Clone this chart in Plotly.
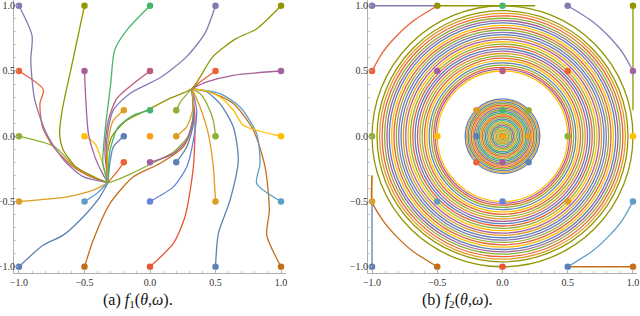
import plotly.graph_objects as go

# ---------------- palette (Mathematica default) ----------------
BLUE = "#5E81B5"; ORANGE = "#E19C24"; GREEN = "#8FB032"; RED = "#EB6235"
PURPLE = "#8778B3"; BROWN = "#C56E1A"; LBLUE = "#5D9EC7"; YELLOW = "#FFBF00"
MAGENTA = "#A5619D"; OLIVE = "#929600"; RED2 = "#E95536"; BLUE2 = "#6685D9"
ORANGE2 = "#F89F13"; MAGENTA2 = "#BC5B80"; TEAL = "#47B66D"

# ---------------- initial points (shared by both panels) ----------------
start_x = [-1, -1, -1, -1, -1, -0.5, -0.5, -0.5, -0.5, -0.5, 0, 0, 0, 0, 0,
           0.5, 0.5, 0.5, 0.5, 0.5, 1, 1, 1, 1, 1,
           -0.2, -0.2, -0.2, 0, 0, 0.2, 0.2, 0.2]
start_y = [-1, -0.5, 0, 0.5, 1, -1, -0.5, 0, 0.5, 1, -1, -0.5, 0, 0.5, 1,
           -1, -0.5, 0, 0.5, 1, -1, -0.5, 0, 0.5, 1,
           -0.2, 0, 0.2, -0.2, 0.2, -0.2, 0, 0.2]
start_color = [BLUE, ORANGE, GREEN, RED, PURPLE, BROWN, LBLUE, YELLOW, MAGENTA, OLIVE,
               RED2, BLUE2, ORANGE2, MAGENTA2, TEAL,
               BLUE, ORANGE, GREEN, RED, PURPLE, BROWN, LBLUE, YELLOW, MAGENTA, OLIVE,
               RED, BLUE, ORANGE, MAGENTA, TEAL, BLUE, ORANGE, GREEN]

# ---------------- panel (a): trajectories ----------------
a_path_x = [
    [-1, -0.814, -0.662, -0.509, -0.382, -0.32],
    [-1, -0.636, -0.433, -0.32],
    [-1, -0.725, -0.585, -0.433, -0.32, -0.15, 0.0, 0.18, 0.29, 0.33, 0.32],
    [-1, -0.814, -0.84, -0.82, -0.738, -0.585, -0.43, -0.32],
    [-1, -0.9, -0.91, -0.88, -0.79, -0.66, -0.51, -0.32],
    [-0.5, -0.433, -0.305, -0.127, 0.076, 0.254, 0.331, 0.32],
    [-0.5, -0.407, -0.32],
    [-0.5, -0.42, -0.369, -0.32],
    [-0.5, -0.49, -0.47, -0.42, -0.36, -0.32],
    [-0.5, -0.6, -0.67, -0.69, -0.66, -0.56, -0.41, -0.32],
    [0, 0.178, 0.267, 0.331, 0.343, 0.32],
    [0, 0.178, 0.28, 0.331, 0.356, 0.32],
    [0],
    [0, -0.127, -0.254, -0.318, -0.344, -0.32],
    [0, -0.18, -0.27, -0.3, -0.34, -0.36, -0.32],
    [0.5, 0.522, 0.611, 0.674, 0.636, 0.534, 0.433, 0.32],
    [0.5, 0.483, 0.445, 0.382, 0.32],
    [0.5, 0.483, 0.433, 0.382, 0.32],
    [0.5, 0.382, 0.32],
    [0.5, 0.42, 0.28, 0.08, -0.15, -0.28, -0.33, -0.32],
    [1, 0.891, 0.911, 0.878, 0.789, 0.636, 0.458, 0.32],
    [1, 0.814, 0.84, 0.814, 0.687, 0.534, 0.32],
    [1, 0.713, 0.636, 0.534, 0.407, 0.32],
    [1, 0.636, 0.433, 0.32],
    [1, 0.81, 0.66, 0.48, 0.32, 0.15, 0.0, -0.18, -0.29, -0.33, -0.32],
    [-0.2, -0.25, -0.32],
    [-0.2, -0.28, -0.31, -0.32],
    [-0.2, -0.28, -0.318, -0.326, -0.32],
    [0, 0.178, 0.28, 0.331, 0.32],
    [0, -0.127, -0.242, -0.305, -0.32],
    [0.2, 0.28, 0.331, 0.32],
    [0.2, 0.28, 0.33, 0.32],
    [0.2, 0.242, 0.32],
]
a_path_y = [
    [-1, -0.834, -0.758, -0.617, -0.464, -0.355],
    [-0.5, -0.464, -0.413, -0.355],
    [0, -0.082, -0.222, -0.311, -0.355, -0.29, -0.215, -0.12, 0.0, 0.16, 0.365],
    [0.5, 0.357, 0.25, 0.07, -0.08, -0.235, -0.32, -0.355],
    [1, 0.77, 0.58, 0.28, 0.02, -0.18, -0.31, -0.355],
    [-1, -0.796, -0.515, -0.311, -0.209, -0.082, 0.122, 0.365],
    [-0.5, -0.439, -0.355],
    [0, -0.056, -0.184, -0.355],
    [0.5, 0.28, 0.02, -0.16, -0.29, -0.355],
    [1, 0.53, 0.2, 0.02, -0.11, -0.24, -0.32, -0.355],
    [-1, -0.821, -0.617, -0.235, 0.148, 0.365],
    [-0.5, -0.388, -0.235, -0.031, 0.199, 0.365],
    [0],
    [0.5, 0.403, 0.288, 0.122, -0.107, -0.355],
    [1, 0.81, 0.66, 0.4, 0.07, -0.21, -0.355],
    [-1, -0.745, -0.49, -0.184, 0.071, 0.25, 0.339, 0.365],
    [-0.5, -0.235, 0.02, 0.224, 0.365],
    [0, 0.122, 0.25, 0.327, 0.365],
    [0.5, 0.416, 0.365],
    [1, 0.79, 0.61, 0.45, 0.33, 0.2, -0.03, -0.355],
    [-1, -0.758, -0.566, -0.235, 0.046, 0.25, 0.339, 0.365],
    [-0.5, -0.362, -0.209, 0.02, 0.224, 0.327, 0.365],
    [0, 0.084, 0.199, 0.301, 0.352, 0.365],
    [0.5, 0.467, 0.416, 0.365],
    [1, 0.82, 0.75, 0.61, 0.365, 0.29, 0.21, 0.12, 0.0, -0.16, -0.355],
    [-0.2, -0.27, -0.355],
    [0, -0.082, -0.235, -0.355],
    [0.2, 0.122, -0.031, -0.235, -0.355],
    [-0.2, -0.133, -0.031, 0.148, 0.365],
    [0.2, 0.161, 0.071, -0.107, -0.355],
    [-0.2, -0.082, 0.097, 0.365],
    [0, 0.071, 0.224, 0.365],
    [0.2, 0.276, 0.365],
]

# ---------------- panel (b): edge segments / entry arcs ----------------
b_path_idx = [0, 1, 5, 4, 3, 9, 19, 24, 21, 20]
b_path_x = [
    [-1, -1],
    [-1, -1],
    [-0.5, -0.69, -0.82, -0.92, -1.0, -1.0],
    [-1, -0.5],
    [-1, -0.92, -0.82, -0.69, -0.5],
    [-0.5, 0.25],
    [0.5, 0.69, 0.82, 0.92, 1.0],
    [1, 1],
    [1, 0.92, 0.82, 0.69, 0.5],
    [1, 0.5],
]
b_path_y = [
    [-1, -0.5],
    [-0.5, -0.3],
    [-1, -0.88, -0.76, -0.64, -0.5, -0.3],
    [1, 1],
    [0.5, 0.64, 0.76, 0.88, 1.0],
    [1, 1],
    [1, 0.88, 0.76, 0.64, 0.5],
    [1, 0.2],
    [-0.5, -0.64, -0.76, -0.88, -1.0],
    [-1, -1],
]

# dense loops of the spirals (radius, colour)
outer_ring_r = [1.000, 0.962, 0.942, 0.923, 0.904, 0.886, 0.868, 0.850, 0.832, 0.814,
                0.796, 0.778, 0.760, 0.742, 0.724, 0.706, 0.688, 0.670, 0.652, 0.634,
                0.616, 0.598, 0.580, 0.562, 0.545, 0.528, 0.514, 0.500]
outer_ring_c = [OLIVE, OLIVE, ORANGE, RED, GREEN, MAGENTA, BLUE, YELLOW, RED, GREEN,
                PURPLE, BLUE, ORANGE, MAGENTA, YELLOW, GREEN, RED, BLUE, MAGENTA, ORANGE,
                GREEN, RED, YELLOW, BLUE, GREEN, RED, MAGENTA, YELLOW]
inner_ring_r = [0.286, 0.275, 0.263, 0.251, 0.239, 0.227, 0.215, 0.203, 0.191, 0.179,
                0.167, 0.155, 0.143, 0.131, 0.119, 0.107, 0.095, 0.083, 0.071, 0.059,
                0.047, 0.035, 0.023, 0.012]
inner_ring_c = [BLUE, ORANGE, BLUE, GREEN, RED, ORANGE, MAGENTA, GREEN, BLUE, TEAL,
                ORANGE, RED, GREEN, BLUE, TEAL, ORANGE, GREEN, MAGENTA, TEAL, ORANGE,
                GREEN, ORANGE, TEAL, ORANGE]

# ---------------- figure ----------------
fig = go.Figure()
LW = 1.3

for i, (px, py) in enumerate(zip(a_path_x, a_path_y)):
    if len(px) > 1:
        fig.add_trace(go.Scatter(x=px, y=py, mode="lines", xaxis="x", yaxis="y",
                                 line=dict(color=start_color[i], width=LW, shape="spline", smoothing=0.7),
                                 hoverinfo="skip", showlegend=False))
for k, i in enumerate(b_path_idx):
    fig.add_trace(go.Scatter(x=b_path_x[k], y=b_path_y[k], mode="lines", xaxis="x2", yaxis="y2",
                             line=dict(color=start_color[i], width=LW, shape="spline", smoothing=0.6),
                             hoverinfo="skip", showlegend=False))

for ax, ay in (("x", "y"), ("x2", "y2")):
    fig.add_trace(go.Scatter(x=start_x, y=start_y, mode="markers", xaxis=ax, yaxis=ay,
                             marker=dict(color=start_color, size=6.5, line=dict(width=0)),
                             hoverinfo="skip", showlegend=False))

shapes = []
for r, c in list(zip(outer_ring_r, outer_ring_c)) + list(zip(inner_ring_r, inner_ring_c)):
    shapes.append(dict(type="circle", xref="x2", yref="y2", x0=-r, x1=r, y0=-r, y1=r,
                       line=dict(color=c, width=1.3), layer="below"))

W, H = 640, 316
tickfont = dict(family="Liberation Serif", size=10, color="#333333")
TV = [-1.0, -0.5, 0.0, 0.5, 1.0]
TT = ["\u22121.0", "\u22120.5", "0.0", "0.5", "1.0"]


def axis(domain, rng, anchor, standoff=0):
    return dict(domain=domain, range=rng, anchor=anchor, showgrid=False, zeroline=False,
                automargin=False, ticklabelstandoff=standoff,
                showline=True, linecolor="#b0b0b0", linewidth=1, ticks="inside", ticklen=4,
                tickcolor="#b0b0b0", tickvals=TV, ticktext=TT, tickfont=tickfont,
                minor=dict(ticks="inside", ticklen=2, tickcolor="#c8c8c8", dtick=0.1, tick0=0),
                fixedrange=True)


capfont = dict(family="Liberation Serif", size=16, color="#111111")
ydom = [43 / H, 1.0]
fig.update_layout(
    width=W, height=H, margin=dict(l=0, r=0, t=0, b=0),
    paper_bgcolor="white", plot_bgcolor="white",
    xaxis=axis([14 / W, 286 / W], [-1.038, 1.038], "y"),
    yaxis=axis(ydom, [-1.048, 1.044], "x", -4),
    xaxis2=axis([368 / W, 637 / W], [-1.031, 1.031], "y2"),
    yaxis2=axis(ydom, [-1.048, 1.044], "x2", -3),
    shapes=shapes,
    annotations=[
        dict(text="(a) <i>f</i><sub>1</sub>(<i>\u03b8</i>,<i>\u03c9</i>).", x=138 / W, y=(H - 300) / H,
             xref="paper", yref="paper", showarrow=False, xanchor="center", yanchor="middle",
             font=capfont),
        dict(text="(b) <i>f</i><sub>2</sub>(<i>\u03b8</i>,<i>\u03c9</i>).", x=457 / W, y=(H - 300) / H,
             xref="paper", yref="paper", showarrow=False, xanchor="center", yanchor="middle",
             font=capfont),
    ],
)

fig.write_html("out.html", config={"displayModeBar": False},
               post_script="document.body.style.margin='0';")
